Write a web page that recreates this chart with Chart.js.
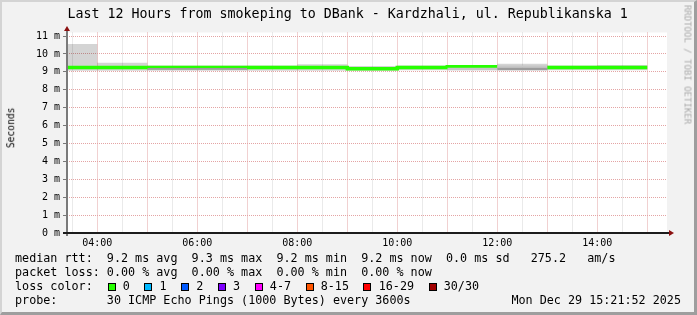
<!DOCTYPE html>
<html>
<head>
<meta charset="utf-8">
<script src="https://cdn.jsdelivr.net/npm/chart.js@4.4.1/dist/chart.umd.min.js"></script>
<style>
  html, body { margin: 0; padding: 0; background: #f2f2f2; }
  #wrap { position: relative; width: 697px; height: 315px; background: #f2f2f2; overflow: hidden; }
  #frame { position: absolute; left: 0; top: 0; width: 697px; height: 315px; box-sizing: border-box;
    border-top: 2px solid #d4d4d4; border-left: 2px solid #d4d4d4;
    border-right: 3px solid #9e9e9e; border-bottom: 3px solid #9e9e9e; pointer-events: none; }
  canvas { position: absolute; left: 0; top: 0; }
  .t { position: absolute; font-family: "DejaVu Sans Mono", monospace; white-space: pre; line-height: 1; color: #000; }
  .row { font-size: 11.74px; left: 15px; }
  .box { position: absolute; width: 8px; height: 8px; box-sizing: border-box; border: 1px solid #000; }
</style>
</head>
<body>
<div id="wrap">
  <canvas id="rrd" width="697" height="315"></canvas>
  <div class="t" style="left:67.5px; top:7px; font-size:13.3px;">Last 12 Hours from smokeping to DBank - Kardzhali, ul. Republikanska 1</div>
  <div class="t" style="left:-38.6px; top:122.7px; width:100px; text-align:center; font-size:9.6px; transform:rotate(-90deg);">Seconds</div>
  <div class="t" style="left:617px; top:59.5px; width:140px; text-align:center; font-size:9px; color:#aaa; transform:rotate(90deg);">RRDTOOL / TOBI OETIKER</div>
  <div class="t row" style="top:252.8px;">median rtt:  9.2 ms avg  9.3 ms max  9.2 ms min  9.2 ms now  0.0 ms sd   275.2   am/s</div>
  <div class="t row" style="top:266.8px;">packet loss: 0.00 % avg  0.00 % max  0.00 % min  0.00 % now</div>
  <div class="t row" id="lossRow" style="top:280.8px;">loss color:</div>
  <div class="t row" style="top:294.6px;">probe:       30 ICMP Echo Pings (1000 Bytes) every 3600s</div>
  <div class="t" style="right:16px; top:294.6px; font-size:11.74px;">Mon Dec 29 15:21:52 2025</div>
  <div id="frame"></div>
</div>
<script>
// Stunden-Bins (Start jeder Stunde), Werte in ms
const binStart  = [3, 4, 5, 6, 7, 8, 9, 10, 11, 12, 13, 14];
const smokeHi   = [10.56, 9.51, 9.35, 9.35, 9.35, 9.42, 9.33, 9.35, 9.35, 9.46, 9.35, 9.39];
const smokeLo   = [9.07, 9.07, 9.07, 9.07, 9.07, 9.07, 9.07, 9.09, 9.09, 9.09, 9.09, 9.09];
const midHi     = [null, null, null, null, null, null, null, null, 9.23, 9.35, null, null];
const midLo     = [null, null, null, null, null, null, null, null, 9.09, 9.23, null, null];
const darkHi    = [null, null, 9.22, 9.22, null, null, null, null, null, 9.23, null, null];
const darkLo    = [null, null, 9.12, 9.12, null, null, null, null, null, 9.09, null, null];
const medianRtt = [9.25, 9.25, 9.25, 9.25, 9.25, 9.24, 9.17, 9.25, 9.28, null, 9.25, 9.24];

// Achsen
const xMin = 3.394, xMax = 15.394;          // 03:23 .. 15:23
const labelHours = [4, 6, 8, 10, 12, 14];
const timeLabels = ['04:00', '06:00', '08:00', '10:00', '12:00', '14:00'];
const yMax = 11.2;
const yTickLabels = ['0 m', '1 m', '2 m', '3 m', '4 m', '5 m', '6 m', '7 m', '8 m', '9 m', '10 m', '11 m'];

// Legende Paketverlust
const lossLabels = ['0', '1', '2', '3', '4-7', '8-15', '16-29', '30/30'];
const lossColors = ['#26ff00', '#00b8ff', '#0059ff', '#7e00ff', '#ff00ff', '#ff5500', '#ff0000', '#a10000'];

const RED = '#e4a4a4', GREY = '#d6d6d6';

function steps(vals) {
  const pts = [];
  vals.forEach((v, i) => {
    pts.push({ x: binStart[i], y: v });
    pts.push({ x: binStart[i] + 1, y: v });
  });
  return pts;
}

function band(hi, lo, color, order) {
  return [
    { data: steps(hi), borderColor: 'rgba(0,0,0,0)', borderWidth: 0, backgroundColor: color, fill: '+1', order, clip: 0 },
    { data: steps(lo), borderColor: 'rgba(0,0,0,0)', borderWidth: 0, fill: false, order, clip: 0 }
  ];
}

const rrdFrame = {
  id: 'rrdFrame',
  beforeDraw(chart) {
    const { ctx, chartArea: a } = chart;
    ctx.save();
    ctx.fillStyle = '#ffffff';
    ctx.fillRect(a.left, a.top, a.right - a.left, a.bottom - a.top);
    ctx.restore();
  },
  afterDraw(chart) {
    const { ctx, chartArea: a } = chart;
    ctx.save();
    // Achsenlinien
    ctx.fillStyle = '#7a7a7a';
    ctx.fillRect(a.left - 1, a.top - 2, 2, a.bottom - a.top + 5);
    ctx.fillStyle = '#1c1c1c';
    ctx.fillRect(a.left - 4, a.bottom - 1, a.right - a.left + 8, 2);
    // Pfeile
    ctx.fillStyle = '#8b1010';
    ctx.beginPath();
    ctx.moveTo(a.left - 3, a.top - 1.5);
    ctx.lineTo(a.left + 3, a.top - 1.5);
    ctx.lineTo(a.left, a.top - 6.5);
    ctx.closePath();
    ctx.fill();
    ctx.beginPath();
    ctx.moveTo(a.right + 2, a.bottom - 3);
    ctx.lineTo(a.right + 2, a.bottom + 3);
    ctx.lineTo(a.right + 7, a.bottom);
    ctx.closePath();
    ctx.fill();
    ctx.restore();
  }
};

const halfHours = [];
for (let h = 3.5; h <= 15; h += 0.5) halfHours.push(h);
const halfM = [];
for (let m = 0; m <= 11; m += 0.5) halfM.push(m);

new Chart(document.getElementById('rrd').getContext('2d'), {
  type: 'line',
  data: {
    datasets: [
      ...band(smokeHi, smokeLo, 'rgba(0,0,0,0.17)', 4),
      { data: steps(medianRtt), borderColor: '#26ff00', borderWidth: 3.5, fill: false,
        borderCapStyle: 'butt', borderJoinStyle: 'miter', order: 3, clip: 0 },
      ...band(midHi, midLo, '#c6c6c6', 2),
      ...band(darkHi, darkLo, '#9c9c9c', 1)
    ]
  },
  options: {
    responsive: false,
    animation: false,
    devicePixelRatio: 1,
    events: [],
    layout: { padding: { left: 0, right: 30, top: 32.5, bottom: 0 } },
    elements: { point: { radius: 0 }, line: { tension: 0 } },
    plugins: { legend: { display: false }, tooltip: { enabled: false }, title: { display: false } },
    scales: {
      x: {
        type: 'linear', min: xMin, max: xMax,
        afterFit: s => { s.height = 82; },
        afterBuildTicks: s => { s.ticks = halfHours.map(v => ({ value: v })); },
        ticks: {
          autoSkip: false, maxRotation: 0, padding: 4, color: '#000',
          font: { family: 'DejaVu Sans Mono', size: 10 },
          callback: v => { const i = labelHours.indexOf(v); return i >= 0 ? timeLabels[i] : ''; }
        },
        grid: { drawTicks: false, lineWidth: 1, color: c => Number.isInteger(c.tick.value) ? RED : GREY },
        border: { display: false, dash: [1, 1] }
      },
      y: {
        min: 0, max: yMax,
        afterFit: s => { s.width = 67; },
        afterBuildTicks: s => { s.ticks = halfM.map(v => ({ value: v })); },
        ticks: {
          padding: 3, color: '#000',
          font: { family: 'DejaVu Sans Mono', size: 10 },
          callback: v => Number.isInteger(v) ? yTickLabels[v] : ''
        },
        grid: {
          lineWidth: 1, tickLength: 4,
          color: c => Number.isInteger(c.tick.value) ? RED : GREY,
          tickColor: c => Number.isInteger(c.tick.value) ? '#777' : 'rgba(0,0,0,0)'
        },
        border: { display: false, dash: [1, 1] }
      }
    }
  },
  plugins: [rrdFrame]
});

// Farbkästchen der Verlust-Legende
const cw = 7.067;
const row = document.getElementById('lossRow');
let pos = 13;
lossLabels.forEach((lab, i) => {
  const bx = 0.8 + pos * cw;
  const box = document.createElement('div');
  box.className = 'box';
  box.style.left = bx + 'px';
  box.style.top = '2.5px';
  box.style.background = lossColors[i];
  row.appendChild(box);
  const tx = document.createElement('span');
  tx.textContent = lab;
  tx.style.position = 'absolute';
  tx.style.left = (bx + 15.2) + 'px';
  tx.style.top = '0px';
  row.appendChild(tx);
  pos += 2.2 + lab.length + 2;
});
</script>
</body>
</html>
